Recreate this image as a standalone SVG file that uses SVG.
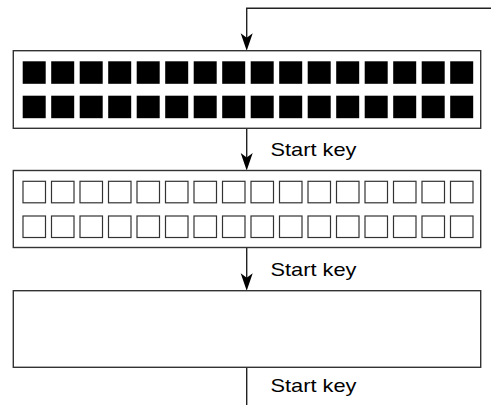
<svg xmlns="http://www.w3.org/2000/svg" width="491" height="405" viewBox="0 0 491 405">
<defs>
<style>
.box{fill:#fff;stroke:#333;stroke-width:1.4}
.f{fill:#000}
.o{fill:#fff;stroke:#333;stroke-width:1.2}
.ln{fill:none;stroke:#222;stroke-width:1.4}
.ah{fill:#000}
.lbl{font-family:"Liberation Sans",Arial,sans-serif;font-size:19px;fill:#000}
</style>
<rect id="fsq" x="0" y="0" width="23" height="22.5" class="f"/>
<rect id="osq" x="0" y="0" width="22.5" height="21.5" class="o"/>
<path id="arrow" d="M0,0 L-6,-17.5 L0,-13 L6,-17.5 Z" class="ah"/>
</defs>
<rect width="491" height="405" fill="#fff"/>
<g id="connectors">
<path class="ln" d="M491,8.3 H246.7 V40"/>
<use href="#arrow" x="246.7" y="50.7"/>
<path class="ln" d="M246.7,128.3 V160"/>
<use href="#arrow" x="246.7" y="170.5"/>
<path class="ln" d="M246.7,247.5 V280"/>
<use href="#arrow" x="246.7" y="290.7"/>
<path class="ln" d="M246.7,367.3 V405"/>
<text class="lbl" x="270.5" y="156.3" textLength="86" lengthAdjust="spacingAndGlyphs">Start key</text>
<text class="lbl" x="270.5" y="276.3" textLength="86" lengthAdjust="spacingAndGlyphs">Start key</text>
<text class="lbl" x="270.5" y="391.5" textLength="86" lengthAdjust="spacingAndGlyphs">Start key</text>
</g>
<g id="node1">
<rect class="box" x="13.3" y="50.7" width="467.4" height="77.6"/>
<use href="#fsq" x="22.7" y="61.3"/><use href="#fsq" x="51.2" y="61.3"/><use href="#fsq" x="79.7" y="61.3"/><use href="#fsq" x="108.2" y="61.3"/><use href="#fsq" x="136.7" y="61.3"/><use href="#fsq" x="165.2" y="61.3"/><use href="#fsq" x="193.7" y="61.3"/><use href="#fsq" x="222.2" y="61.3"/><use href="#fsq" x="250.7" y="61.3"/><use href="#fsq" x="279.2" y="61.3"/><use href="#fsq" x="307.7" y="61.3"/><use href="#fsq" x="336.2" y="61.3"/><use href="#fsq" x="364.7" y="61.3"/><use href="#fsq" x="393.2" y="61.3"/><use href="#fsq" x="421.7" y="61.3"/><use href="#fsq" x="450.2" y="61.3"/>
<use href="#fsq" x="22.7" y="95.7"/><use href="#fsq" x="51.2" y="95.7"/><use href="#fsq" x="79.7" y="95.7"/><use href="#fsq" x="108.2" y="95.7"/><use href="#fsq" x="136.7" y="95.7"/><use href="#fsq" x="165.2" y="95.7"/><use href="#fsq" x="193.7" y="95.7"/><use href="#fsq" x="222.2" y="95.7"/><use href="#fsq" x="250.7" y="95.7"/><use href="#fsq" x="279.2" y="95.7"/><use href="#fsq" x="307.7" y="95.7"/><use href="#fsq" x="336.2" y="95.7"/><use href="#fsq" x="364.7" y="95.7"/><use href="#fsq" x="393.2" y="95.7"/><use href="#fsq" x="421.7" y="95.7"/><use href="#fsq" x="450.2" y="95.7"/>
</g>
<g id="node2">
<rect class="box" x="13.3" y="170.5" width="467.4" height="77"/>
<use href="#osq" x="23" y="181.3"/><use href="#osq" x="51.5" y="181.3"/><use href="#osq" x="80" y="181.3"/><use href="#osq" x="108.5" y="181.3"/><use href="#osq" x="137" y="181.3"/><use href="#osq" x="165.5" y="181.3"/><use href="#osq" x="194" y="181.3"/><use href="#osq" x="222.5" y="181.3"/><use href="#osq" x="251" y="181.3"/><use href="#osq" x="279.5" y="181.3"/><use href="#osq" x="308" y="181.3"/><use href="#osq" x="336.5" y="181.3"/><use href="#osq" x="365" y="181.3"/><use href="#osq" x="393.5" y="181.3"/><use href="#osq" x="422" y="181.3"/><use href="#osq" x="450.5" y="181.3"/>
<use href="#osq" x="23" y="216"/><use href="#osq" x="51.5" y="216"/><use href="#osq" x="80" y="216"/><use href="#osq" x="108.5" y="216"/><use href="#osq" x="137" y="216"/><use href="#osq" x="165.5" y="216"/><use href="#osq" x="194" y="216"/><use href="#osq" x="222.5" y="216"/><use href="#osq" x="251" y="216"/><use href="#osq" x="279.5" y="216"/><use href="#osq" x="308" y="216"/><use href="#osq" x="336.5" y="216"/><use href="#osq" x="365" y="216"/><use href="#osq" x="393.5" y="216"/><use href="#osq" x="422" y="216"/><use href="#osq" x="450.5" y="216"/>
</g>
<g id="node3">
<rect class="box" x="13.3" y="290.7" width="467.4" height="76.6"/>
</g>
</svg>
